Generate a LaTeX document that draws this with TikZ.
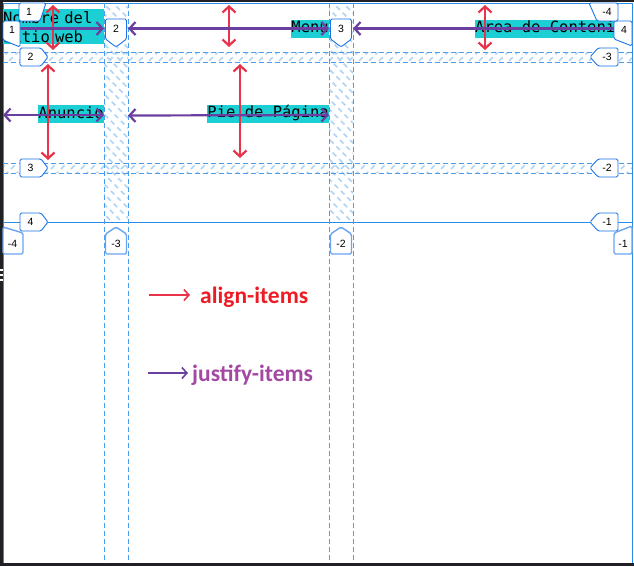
\documentclass[tikz,border=0pt]{standalone}
\usepackage{fontspec}
\setmonofont{DejaVu Sans Mono}
\newfontfamily\legendfont{Carlito}
\newfontfamily\numfont{Liberation Sans}
\usetikzlibrary{arrows.meta}
\definecolor{frame}{HTML}{202124}
\definecolor{gridblue}{HTML}{2B8CE8}
\definecolor{hatchblue}{HTML}{B2D4F5}
\definecolor{labelblue}{HTML}{1A73E8}
\definecolor{itemcyan}{HTML}{1CCFD4}
\definecolor{alignred}{HTML}{E8334A}
\definecolor{justifypurple}{HTML}{6B3FA0}
\definecolor{legendred}{HTML}{ED1C24}
\definecolor{legendpurple}{HTML}{A349A4}
\tikzset{
  grid solid/.style={
    draw=gridblue,
    line width=1pt
  },
  grid dashed/.style={
    draw=gridblue!85,
    line width=1pt,
    dash pattern=on 5pt off 3pt
  },
  gap hatch/.style={
    draw=hatchblue,
    line width=1.7pt,
    dash pattern=on 5pt off 4pt
  },
  item box/.style={
    fill=itemcyan,
    inner xsep=0pt,
    inner ysep=1pt,
    text=black,
    font=\ttfamily\fontsize{15.5}{19}\selectfont
  },
  item line/.style={
    text height=12pt,
    text depth=4pt
  },
  align arrow/.style={
    {Straight Barb[length=6pt,width=13pt]}-{Straight Barb[length=6pt,width=13pt]},
    line width=2.2pt,
    draw=alignred
  },
  justify arrow/.style={
    {Straight Barb[length=6pt,width=13pt]}-{Straight Barb[length=6pt,width=13pt]},
    line width=2.2pt,
    draw=justifypurple
  },
  legend arrow/.style={
    -{Straight Barb[length=5pt,width=11pt]},
    line width=1.6pt
  },
  legend text/.style={
    anchor=base west,
    inner sep=0pt,
    font=\legendfont\bfseries\fontsize{23.5}{26}\selectfont
  },
  line label/.style={
    fill=white,
    draw=labelblue,
    line width=0.9pt,
    rounded corners=1.5pt
  },
  end label/.style={
    fill=white,
    draw=labelblue!65,
    line width=1.4pt,
    rounded corners=1.5pt
  },
  label num/.style={
    inner sep=0pt,
    font=\numfont\fontsize{10.5}{11}\selectfont
  }
}
% etiquetas de linea: nombre, posicion, texto
\newcommand{\rowlabelW}[3]{%
  \draw[line label] (20,#2-9) -- (41,#2-9) -- (48,#2) -- (41,#2+9) -- (20,#2+9) -- cycle;
  \node[label num] (#1) at (30.5,#2) {#3};}
\newcommand{\rowlabelE}[3]{%
  \draw[line label] (618,#2-9) -- (598,#2-9) -- (590,#2) -- (598,#2+9) -- (618,#2+9) -- cycle;
  \node[label num] (#1) at (607,#2) {#3};}
\newcommand{\collabelN}[3]{%
  \draw[line label] (#2-10.5,19) -- (#2+10.5,19) -- (#2+10.5,39) -- (#2,47) -- (#2-10.5,39) -- cycle;
  \node[label num] (#1) at (#2,29) {#3};}
\newcommand{\collabelS}[3]{%
  \draw[end label] (#2,227) -- (#2+10.5,234) -- (#2+10.5,254) -- (#2-10.5,254) -- (#2-10.5,234) -- cycle;
  \node[label num] (#1) at (#2,244) {#3};}

\begin{document}
\begin{tikzpicture}[x=1pt, y=-1pt]
  \useasboundingbox (0,0) rectangle (634,566);

  % 1. marco y fondo
  \fill[frame] (0,0) rectangle (634,566);
  \fill[white] (3,2) rectangle (634,563);
  \foreach \y in {269,274,279}
    \fill[white] (0,\y) rectangle (2.5,\y+1.5);

  % 2. huecos (gap) rayados
  \begin{scope}
    \clip (104,3) rectangle (128,222) (329,3) rectangle (353,222);
    \foreach \k in {-12,...,36}
      \draw[gap hatch] (\k*10,0) -- ++(240,240);
  \end{scope}
  \begin{scope}
    \clip (3,52) rectangle (632,62) (3,163) rectangle (632,173);
    \foreach \k in {4,...,82}
      \draw[gap hatch] (\k*10,0) -- ++(-200,200);
  \end{scope}

  % 3. lineas de la rejilla
  \draw[grid solid] (3,3) -- (632,3);
  \draw[grid solid] (3,222) -- (632,222);
  \draw[grid solid] (3,3) -- (3,563);
  \draw[grid solid] (632,3) -- (632,563);
  \foreach \x in {104,128,329,353}
    \draw[grid dashed] (\x,3) -- (\x,563);
  \foreach \y in {52,62,163,173}
    \draw[grid dashed] (3,\y) -- (632,\y);

  % 4. elementos
  \node[item box, anchor=north west, text width=101pt, align=left, inner ysep=2pt] (nombre) at (3,9) {Nombre del\\sitio web};
  \node[item box, item line, anchor=east] (menu) at (329,28.5) {Menu};
  \node[item box, item line, anchor=west] (area) at (475,28.5) {Area de Conteni};
  \node[item box, item line, anchor=east] (anuncio) at (104,114) {Anuncio};
  \node[item box, item line, anchor=east] (pie) at (329,113.5) {Pie de Página};

  % 5. align-items (vertical)
  \coordinate (al1a) at (53,5);   \coordinate (al1b) at (53,50);
  \coordinate (al2a) at (229,5);  \coordinate (al2b) at (229,47);
  \coordinate (al3a) at (485,5);  \coordinate (al3b) at (485,50);
  \coordinate (al4a) at (48,64);  \coordinate (al4b) at (48,160);
  \coordinate (al5a) at (240,64); \coordinate (al5b) at (240,158);
  \foreach \n in {1,...,5}
    \draw[align arrow] (al\n a) -- (al\n b);

  % 6. justify-items (horizontal)
  \coordinate (ju1a) at (3,28.5);   \coordinate (ju1b) at (104,28.5);
  \coordinate (ju2a) at (128,28.5); \coordinate (ju2b) at (329,28.5);
  \coordinate (ju3a) at (353,28.5); \coordinate (ju3b) at (632,28.5);
  \coordinate (ju4a) at (3,115);    \coordinate (ju4b) at (104,115);
  \coordinate (ju5a) at (128,115.5);\coordinate (ju5b) at (329,115);
  \foreach \n in {1,...,5}
    \draw[justify arrow] (ju\n a) -- (ju\n b);

  % 7. numeros de linea
  \draw[line label] (3,21) -- (20,21) -- (20,47) -- (3,40) -- cycle;
  \node[label num] (c1) at (12,30) {1};
  \draw[line label] (19,3) -- (46,3) -- (40,21) -- (19,21) -- cycle;
  \node[label num] (r1) at (29,12) {1};
  \draw[line label] (614,21) -- (632,21) -- (632,46) -- (614,39) -- cycle;
  \node[label num] (c4) at (624,30) {4};
  \draw[line label] (589,3) -- (618,3) -- (618,21) -- (597,21) -- cycle;
  \node[label num] (rm4) at (607,12) {-4};
  \rowlabelW{r2}{57}{2}
  \rowlabelW{r3}{168}{3}
  \rowlabelW{r4}{222}{4}
  \rowlabelE{rm3}{57}{-3}
  \rowlabelE{rm2}{168}{-2}
  \rowlabelE{rm1}{222}{-1}
  \collabelN{c2}{116}{2}
  \collabelN{c3}{341}{3}
  \collabelS{cm3}{116}{-3}
  \collabelS{cm2}{341}{-2}
  \draw[end label] (3,227) -- (23,233) -- (23,254) -- (3,254) -- cycle;
  \node[label num] (cm4) at (12.5,244) {-4};
  \draw[end label] (632,226) -- (614,233) -- (614,254) -- (632,254) -- cycle;
  \node[label num] (cm1) at (623,244) {-1};

  % 8. leyenda
  \coordinate (lgr1) at (149,295); \coordinate (lgr2) at (190,295);
  \draw[legend arrow, alignred] (lgr1) -- (lgr2);
  \node[legend text, text=legendred] (lgalign) at (200,303) {align-items};
  \coordinate (lgp1) at (148,373); \coordinate (lgp2) at (188,373);
  \draw[legend arrow, justifypurple] (lgp1) -- (lgp2);
  \node[legend text, text=legendpurple] (lgjustify) at (192,381) {justify-items};
\end{tikzpicture}
\end{document}
